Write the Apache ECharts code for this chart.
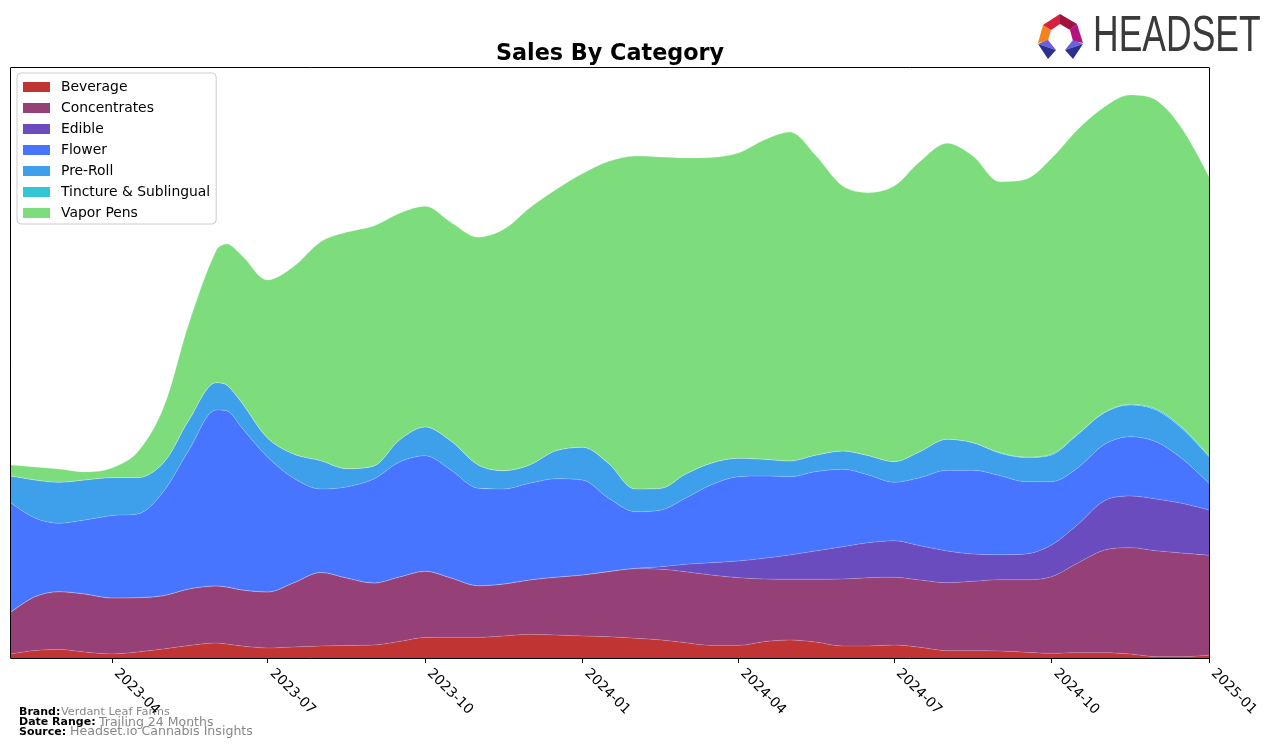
<!DOCTYPE html>
<html><head><meta charset="utf-8">
<style>html,body{margin:0;padding:0;background:#fff}#c{width:1276px;height:747px}</style>
<script src="https://cdn.jsdelivr.net/npm/echarts@6/dist/echarts.min.js"></script></head>
<body><div id="c"></div>
<script>
const dates = ["2023-02-01","2023-02-15","2023-03-01","2023-03-16","2023-04-01","2023-04-16","2023-05-01","2023-05-16","2023-06-01","2023-06-07","2023-06-16","2023-07-01","2023-07-16","2023-08-01","2023-08-16","2023-09-01","2023-09-16","2023-10-01","2023-10-16","2023-11-01","2023-11-16","2023-12-01","2023-12-16","2024-01-01","2024-01-16","2024-02-01","2024-02-16","2024-03-01","2024-03-16","2024-04-01","2024-04-16","2024-05-01","2024-05-16","2024-06-01","2024-06-16","2024-07-01","2024-07-16","2024-08-01","2024-08-16","2024-09-01","2024-09-16","2024-10-01","2024-10-16","2024-11-01","2024-11-16","2024-12-01","2024-12-16","2025-01-01"];
const beverage = [4,7.5,8.5,6,4,6,9,12.5,15,14,12,10,11,12,12.5,13,16.5,20.5,20.7,20.7,22,23.7,23,22,21.3,19.7,18,15.3,12.7,12.7,16.3,18,16,12,12,13,10.7,7.3,7.3,7,5.7,4.7,5.3,5.3,4,1.3,1.3,2.7];
const concentrates = [42,53.8,57.8,58,56,54.3,53.3,56.5,57,57,56,56,64,73.5,67.5,62,64.5,66.2,59.3,51.6,52,54.3,57.7,61,65,69.6,70.7,71,70.3,67.6,62.7,60.7,62.7,67,68.3,67.7,67.3,68,69.4,71.3,72.6,76.6,89.4,102.7,106.3,106,103.7,100];
const edible = [0,0,0,0,0,0,0,0,0,0,0,0,0,0,0,0,0,0,0,0,0,0,0,0,0.2,0.4,2.6,7.4,12.3,16.7,20.7,24.3,28.3,32.3,35,36.6,34.3,31.7,27.3,25,25.7,31.7,38.3,49.3,51.7,51.7,49.7,45.3];
const flower = [109,78.7,68.4,74,82.5,83.7,104,139,176,176.3,162,134.7,105,83.5,91,104,115,115.6,108,97.4,95,96.7,98.6,95,73.5,56.6,56.7,66,77.7,84.3,82.3,78.3,79.3,77.4,67.7,58.4,68,80.7,83.7,79,72.3,63.3,56.7,56.4,59.3,57.3,45,26.7];
const preRoll = [27,38,41,40,37.8,36.3,28.7,30,27.3,25.7,25,19,24,28.3,18.3,13,22,28.7,29,23.3,18.3,18.3,27.7,32.7,34.7,22.7,21.7,24,21.7,18.4,16.7,15.7,16.4,18.3,19.3,20.6,26,31,27.6,22.4,24,26.7,33.3,31.6,31.7,31.7,30,26.6];
const tincture = [0,0,0,0,0,0,0,0,0,0,0,0,0,0,0,0,0,0,0,0,0,0,0,0,0,0,0,0,0,0,0,0,0,0,0,0,0,0,0,0.5,0.7,1,0.5,0.5,0.8,1.2,1.3,1];
const vaporPens = [11,13,13.3,8,9.7,25.7,55,97,132.7,141,147.3,158.3,187.3,219,236.4,240,226.7,220.7,218.7,227.7,241.4,257,261,273.8,301.8,333,331.3,316.3,305.8,305.3,319.3,329,300.3,265,263,275.7,290,296,286.7,271.1,277.7,295.7,304.5,305.5,309.2,308.8,299,279];
const tickDates = ["2023-04-01","2023-07-01","2023-10-01","2024-01-01","2024-04-01","2024-07-01","2024-10-01","2025-01-01"];
const seriesDefs = [
  ["Beverage", beverage, "#c03434"],
  ["Concentrates", concentrates, "#964078"],
  ["Edible", edible, "#6b4cbe"],
  ["Flower", flower, "#4875ff"],
  ["Pre-Roll", preRoll, "#3e9feb"],
  ["Tincture & Sublingual", tincture, "#34c6d7"],
  ["Vapor Pens", vaporPens, "#7ddd7d"]
];
const F = "DejaVu Sans";
const ts = s => new Date(s + "T00:00:00Z").getTime();
const xMin = ts("2023-02-01"), xMax = ts("2025-01-01");
const chart = echarts.init(document.getElementById("c"), null, {renderer:"canvas"});
const ring = (pts, fill) => ({type:"polygon", silent:true, shape:{points:pts}, style:{fill}});
const txt = (x,y,text,size,bold,fill) => ({type:"text", silent:true, x, y, style:{text, x:0, y:0, fontFamily:F, fontSize:size, fontWeight:bold?"bold":"normal", fill, textVerticalAlign:"middle"}});
chart.setOption({
  animation:false,
  backgroundColor:"#fff",
  title:{text:"Sales By Category", left:605, top:38, textAlign:"center",
    textStyle:{fontFamily:F, fontSize:22.3, fontWeight:"bold", color:"#000"}},
  legend:{left:17, top:73, orient:"vertical", icon:"rect", itemWidth:27, itemHeight:10, itemGap:7, padding:[7,6,4,6],
    backgroundColor:"#fff", borderColor:"#ccc", borderWidth:1, borderRadius:4,
    textStyle:{fontFamily:F, fontSize:13.9, color:"#000", lineHeight:14, padding:[0,0,0,6]},
    data:seriesDefs.map(d=>d[0])},
  grid:{left:11, top:68, width:1198, height:590},
  xAxis:[{type:"time", min:xMin, max:xMax,
      axisLine:{show:true, onZero:false, lineStyle:{color:"#000", width:1}},
      axisTick:{show:false}, axisLabel:{show:false}, splitLine:{show:false}},
    {type:"value", position:"bottom", min:xMin, max:xMax,
      axisLine:{show:false, onZero:false},
      axisTick:{show:true, length:5, lineStyle:{color:"#000"}, customValues:tickDates.map(ts)},
      axisLabel:{show:true, rotate:-45, margin:9, padding:[0,0,0,6], fontFamily:F, fontSize:13.9, color:"#000",
        customValues:tickDates.map(ts), hideOverlap:false,
        formatter:v=>new Date(v).toISOString().slice(0,7)},
      splitLine:{show:false}},
    {type:"value", position:"top", offset:1, min:xMin, max:xMax,
      axisLine:{show:true, onZero:false, lineStyle:{color:"#000", width:1}}, axisTick:{show:false}, axisLabel:{show:false}, splitLine:{show:false}}],
  yAxis:[{type:"value", min:0, max:590, offset:1, axisLine:{show:true, onZero:false, lineStyle:{color:"#000", width:1}}, axisTick:{show:false}, axisLabel:{show:false}, splitLine:{show:false}},
    {type:"value", position:"right", min:0, max:590, axisLine:{show:true, onZero:false, lineStyle:{color:"#000", width:1}}, axisTick:{show:false}, axisLabel:{show:false}, splitLine:{show:false}}],
  series:seriesDefs.map(([name,vals,color])=>({
    name, type:"line", stack:"total", smooth:0.33, symbol:"none",
    data:dates.map((d,i)=>[ts(d),vals[i]]),
    itemStyle:{color},
    lineStyle:{width:0.6, color:"rgba(255,255,255,0.3)"},
    areaStyle:{color, opacity:1}
  })),
  graphic:[
    ring([[1043,25],[1038,43],[1048,41],[1051,30]],"#f58220"),
    ring([[1043,25],[1060,14],[1060,24],[1051,30]],"#d4213d"),
    ring([[1060,14],[1077,24],[1070,30],[1060,24]],"#a0123f"),
    ring([[1077,24],[1083,43],[1073,41],[1070,30]],"#b5127f"),
    ring([[1038,44],[1048,40],[1056,50]],"#6a5fdc"),
    ring([[1038,44],[1056,50],[1048,59]],"#2b2f8f"),
    ring([[1083,44],[1073,40],[1065,50]],"#6a5fdc"),
    ring([[1083,44],[1065,50],[1073,59]],"#2b2f8f"),
    {type:"text", silent:true, x:1093, y:37, scaleX:0.71, style:{text:"HEADSET", fontFamily:"Liberation Sans", fontSize:50, fill:"#3a3a3a", textVerticalAlign:"middle"}},
    txt(19,712,"Brand:",11,true,"#000"),
    txt(61,712,"Verdant Leaf Farms",11.3,false,"#888"),
    txt(19,722.5,"Date Range:",11,true,"#000"),
    txt(99,722.5,"Trailing 24 Months",12.5,false,"#888"),
    txt(19,732,"Source:",11,true,"#000"),
    txt(70,732,"Headset.io Cannabis Insights",12.6,false,"#888")
  ]
});
</script></body></html>
